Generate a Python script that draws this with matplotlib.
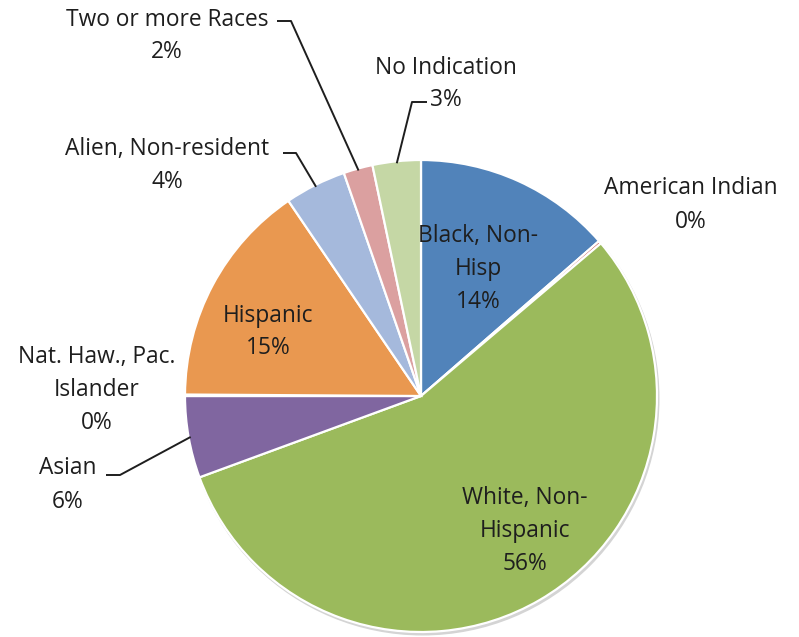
import matplotlib.pyplot as plt
from matplotlib.patches import Circle
import numpy as np

plt.rcParams['font.family'] = ['Open Sans', 'DejaVu Sans']

W, H = 799, 637

# enrollment by race / ethnicity, percent of total
groups = ["Black, Non-\nHisp", "American Indian", "White, Non-\nHispanic", "Asian",
          "Nat. Haw., Pac.\nIslander", "Hispanic", "Alien, Non-resident",
          "Two or more Races", "No Indication"]
shares = [13.6, 0.2, 55.6, 5.6, 0.1, 15.4, 4.2, 2.0, 3.3]
colors = ['#5183BA', '#C8504D', '#9BBA5C', '#8066A0', '#4BACC6',
          '#E99850', '#A5B9DC', '#DBA0A0', '#C5D7A5']

# label anchor (pixels from top-left) for each slice
label_pos = [(478, 269), (691, 205), (525, 531), (68, 485), (97, 390),
             (268, 332), (167, 166), (167, 36), (446, 84)]
# leader elbows: start of dash, elbow point
leaders = {3: [(106, 475), (120, 475)],
           6: [(283, 153), (296, 153)],
           7: [(277, 21), (291, 21)],
           8: [(427, 102), (412, 102)]}

cx, cy, R = 421, 396, 236


def px(p):
    return p[0], H - p[1]


fig = plt.figure(figsize=(W / 100, H / 100), dpi=100)
ax = fig.add_axes([0, 0, 1, 1])

# faint drop shadow under the pie
ax.add_patch(Circle((cx + 1.5, H - cy - 2.5), R + 1, color='#d4d4d4', zorder=0, lw=0))

wedges, _ = ax.pie(shares, colors=colors, startangle=90, counterclock=False,
                   center=(cx, H - cy), radius=R, frame=True,
                   wedgeprops=dict(edgecolor='white', linewidth=1.6, zorder=1))
ax.set_xlim(0, W)
ax.set_ylim(0, H)
ax.set_aspect('equal')
ax.axis('off')

total = sum(shares)
for i, (name, v) in enumerate(zip(groups, shares)):
    x, y = px(label_pos[i])
    ax.text(x, y, f"{name}\n{v / total * 100:.0f}%", ha='center', va='center',
            fontsize=16.4, color='#1e1e1e', linespacing=1.5, zorder=3)

for i, pts in leaders.items():
    w = wedges[i]
    mid = np.deg2rad((w.theta1 + w.theta2) / 2)
    ex = cx + (R - 2) * np.cos(mid)
    ey = H - cy + (R - 2) * np.sin(mid)
    xs = [px(p)[0] for p in pts] + [ex]
    ys = [px(p)[1] for p in pts] + [ey]
    ax.plot(xs, ys, color='#1e1e1e', lw=1.4, solid_capstyle='butt', zorder=3)

fig.savefig('out.png', dpi=100)
